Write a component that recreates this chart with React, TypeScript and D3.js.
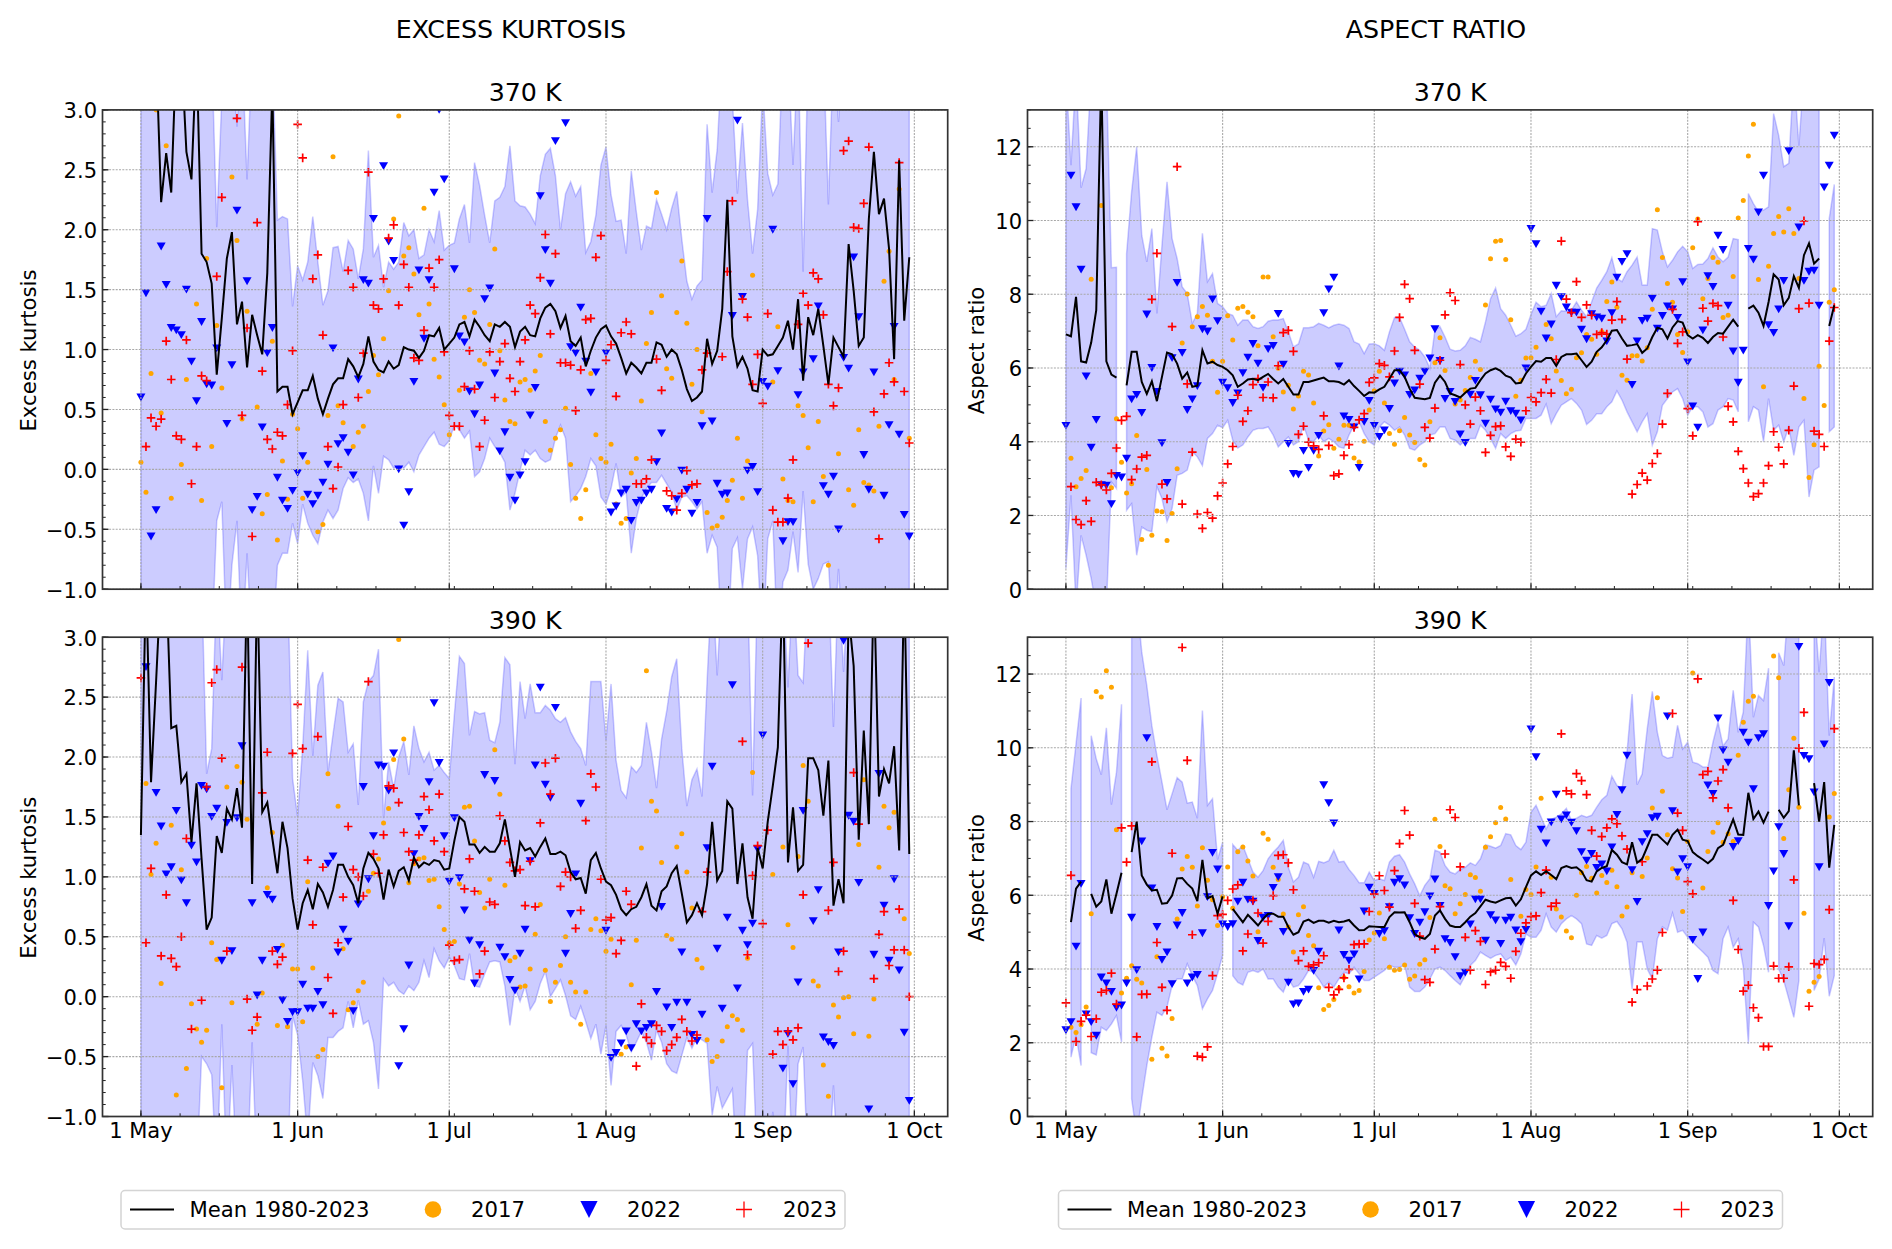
import React from "react";
import * as d3 from "d3";

const N = null;
// Off-scale values are plotted beyond the axis limits and clipped.
const ek370Mean = [3.5,3.5,3.5,3.5,2.23,2.64,2.31,3.5,3.5,2.65,2.42,3.5,1.8,1.73,1.55,.79,1.26,1.76,1.98,1.21,1.4,.85,1.29,1.12,.96,1.64,3.2,.65,.69,.69,.46,.56,.66,.66,.78,.59,.46,.59,.71,.76,.76,.92,.86,.77,.88,1.11,.9,.83,.81,.9,.84,.87,1.02,1,.99,.93,.99,1.12,1.11,1.18,1,1.05,1.1,1.21,1.23,1.11,1.25,1.19,1.12,1.07,1.21,1.19,1.23,1.19,1.02,1.15,1.19,1.12,1.11,1.26,1.35,1.38,1.32,1.18,1.28,1.07,1.03,1.1,.86,.99,1.1,1.17,1.2,1.11,1.05,.93,.8,.89,.85,.8,.89,.89,1.06,1.04,.94,1,.96,.83,.67,.57,.6,.65,1.09,.88,.99,1.34,2.25,1.11,.86,.94,.84,.66,.65,1,.95,.96,1.03,1.1,1.24,1,1.42,.74,1.27,1.12,1.34,1.03,.71,1.1,1.02,.94,1.88,1.49,1.03,1.1,2.09,2.65,2.13,2.26,1.84,.92,2.58,1.24,1.77];
const ek370Upper = [3.5,3.5,3.5,3.5,3.5,3.5,3.5,3.5,3.5,3.5,3.5,3.5,3.5,3.5,3.5,2.02,3.1,3.5,3.5,2.86,3.5,2.42,3.5,3.5,3.5,3.5,3.5,2.08,2.11,2.09,1.36,1.7,1.58,1.73,2.11,1.73,1.37,1.49,1.85,1.86,1.65,1.91,1.84,1.59,1.84,2.66,1.77,1.87,1.52,1.73,1.67,1.73,2.06,1.95,2,1.76,1.79,2,1.9,2.16,1.83,1.87,1.89,2.09,2.21,1.89,2.56,2.37,2.12,1.89,2.24,2.27,2.36,2.7,2.24,2.2,2.19,2.13,2.05,2.45,2.63,2.68,2.45,2,2.3,2.4,2.28,2.36,1.81,1.9,2.12,2.54,2.69,2.29,2.07,2.08,1.8,2.49,2.15,1.83,2.03,2.01,2.25,2.13,2,2.18,2.32,1.92,1.57,1.42,1.53,1.58,2.88,2.31,2.67,3.5,3.5,3.1,2.3,2.89,2.25,1.8,2.17,3.2,2.47,2.29,2.38,3.5,3.5,2.54,3.5,1.65,3.5,3.5,3.5,3.5,2.21,3.5,2.9,3.5,3.5,3.5,3.5,3.5,3.5,3.5,3.5,3.5,3.5,3.5,3.5,3.5,3.5];
const ek370Lower = [-1.5,-1.5,-1.5,-1.5,-1.5,-1.5,-1.5,-1.5,-1.5,-1.5,-1.5,-1.5,-1.5,-1.5,-1.5,-.43,-.27,-1.5,-.8,-.43,-1.5,-.7,-1.5,-1.5,-1.5,-1.5,-1.5,-.8,-.7,-.7,-.45,-.62,-.29,-.45,-.55,-.62,-.44,-.34,-.41,-.34,-.16,-.07,-.11,-.08,-.2,-.43,.03,-.2,.11,.08,.01,.03,.01,.06,-.02,.12,.19,.26,.31,.21,.19,.24,.37,.33,.26,.32,-.06,-.02,.09,.26,.19,.14,.06,-.34,-.2,-.01,.16,.12,.16,.09,.06,.08,.26,.37,.26,-.27,-.22,-.16,-.06,.09,.03,-.23,-.29,-.16,.05,-.23,-.19,-.7,-.41,-.24,-.16,-.11,-.11,-.05,-.12,-.19,-.34,-.23,-.22,-.27,-.33,-.27,-.7,-.55,-.65,-1.5,-1.5,-.66,-.57,-1,-.58,-.48,-.72,-1.5,-.58,-.43,-1.5,-.94,-.84,-.52,-.86,-.18,-.79,-1,-.91,-.79,-.77,-1.5,-.83,-1.5,-1.5,-1.5,-1.5,-1.5,-1.5,-1.5,-1.5,-1.5,-1.5,-1.5,-1.5,-1.5,-1.5];
const ek370Y2017 = [0,.06,1,-.19,2,.8,3,3,4,.47,5,2.7,6,-.24,8,.04,9,.75,11,1.38,12,-.26,13,1.76,14,.19,15,1.2,16,.68,18,2.44,19,1.91,20,.42,21,1.32,23,.52,24,-.37,25,-.21,26,1.07,27,-.59,28,.07,29,-.25,30,.46,31,.34,32,-.24,33,.06,35,-.52,36,-.46,37,.45,38,2.61,39,.53,40,.39,42,.19,43,.31,44,.36,45,.65,46,.95,47,.79,48,1.09,49,1.49,50,2.09,51,2.95,52,1.78,53,1.85,54,1.63,55,1.29,56,2.18,57,1.38,58,.92,59,.77,60,.54,61,.29,63,.66,64,1.27,65,1.5,66,1.31,67,.91,68,.88,69,1.21,70,1.84,71,.99,72,.58,73,.4,74,.38,75,.73,76,.75,77,.66,78,.82,79,.95,80,.4,81,.16,82,.26,83,.33,84,.51,85,.04,86,-.24,87,-.41,88,-.17,89,.8,90,.29,91,.09,92,.06,93,.21,94,-.29,95,-.45,96,-.41,97,-.03,98,.09,99,.57,100,1.05,101,1.31,102,2.31,103,1.45,104,.84,105,.76,106,1.31,107,1.74,108,1.22,109,.71,110,1,111,.48,112,-.36,113,-.49,114,-.47,115,-.4,116,-.26,117,-.09,118,.26,119,-.24,120,.07,121,1.62,125,.73,126,1.19,127,-.08,128,-.26,129,-.27,130,.53,131,.45,132,.18,133,-.27,134,.4,135,-.06,136,-.8,138,.13,140,-.17,141,-.3,142,.33,143,-.11,144,-.13,145,-.18,146,.36,147,1.57,148,1.82,149,.75,150,2.34,152,.26];
const ek370Y2022 = [0,.6,1,1.47,2,-.56,3,-.34,4,1.86,5,1.54,6,1.18,7,1.16,8,1.12,9,1.5,10,.9,11,.57,12,1.23,13,.71,14,.7,15,1.01,17,.38,18,.87,19,2.16,21,1.57,22,-.34,23,-.23,24,.35,25,.97,26,1.18,27,-.07,28,-.26,29,-.33,30,-.18,31,-.03,32,.11,33,-.21,34,-.29,35,-.22,36,-.11,37,.04,38,1.01,39,.21,40,.26,41,.14,42,-.05,43,.75,44,1.58,45,1.55,46,2.09,48,2.53,49,1.9,50,1.74,51,0,52,-.47,53,-.19,54,.73,55,1.66,56,1.09,57,1.58,58,2.31,59,3,60,2.42,62,1.67,63,1.11,64,1.06,65,.65,66,.46,67,.7,68,1.42,69,1.51,70,.8,71,.15,72,.31,73,-.07,74,-.26,75,-.05,76,.06,77,.45,78,.68,79,2.28,80,1.83,81,1.55,82,2.74,84,2.89,85,1.02,86,.97,87,1.35,88,.9,89,.64,90,.81,92,.97,93,-.36,94,-.31,95,-.2,96,-.17,97,-.43,98,-.28,99,-.26,100,-.2,101,-.17,102,.06,103,.3,104,-.33,105,-.36,106,-.25,107,-.01,108,-.17,109,-.37,110,-.28,111,.36,112,2.09,113,.4,114,-.12,115,-.21,116,-.2,117,1.28,118,2.91,119,1.44,120,-.01,121,.02,122,-.19,123,.73,124,.69,125,2,126,.82,127,-.6,128,-.44,129,-.44,130,.62,131,.81,133,.92,134,1.36,135,-.14,136,-.21,137,-.06,138,-.5,139,.93,140,.84,141,1.77,142,1.27,143,.12,144,-.17,145,.81,147,-.22,148,.37,149,1.19,150,.29,151,-.38,152,-.56];
const ek370Y2023 = [1,.19,2,.43,3,.36,4,.42,5,1.07,6,.75,7,.28,8,.25,9,1.08,10,-.12,11,.19,12,.78,13,.74,15,1.61,16,2.27,19,2.93,20,.45,21,1.18,22,-.56,23,2.06,24,.82,25,.25,26,.17,27,.31,28,.28,29,.54,30,.99,31,2.88,32,2.6,34,1.59,35,1.79,36,1.12,37,.19,38,-.16,39,.02,40,.54,41,1.66,42,1.52,43,.6,44,.97,45,2.48,46,1.37,47,1.34,48,1.59,49,1.93,50,2.04,51,1.37,52,1.71,53,1.52,54,.93,55,.91,56,1.16,57,1.68,58,1.52,59,1.75,60,.98,61,.45,62,.36,63,.36,64,.69,65,.99,66,.67,67,.19,68,.41,69,.98,70,.6,71,.9,72,1.05,73,.76,74,.65,75,.9,76,1.08,77,1.37,78,1.3,79,1.6,80,1.96,81,1.13,82,1.8,83,.89,84,.89,85,.87,86,.49,87,.83,88,1.25,89,1.26,90,1.77,91,1.95,92,.91,93,1.04,94,.61,95,1.14,96,1.23,97,1.13,98,-.12,99,-.12,100,-.08,101,.08,102,.92,103,.66,104,-.18,105,-.22,106,-.34,107,-.2,108,-.01,109,-.13,110,-.12,111,.83,112,.97,115,.94,116,1.65,117,2.24,119,1.42,120,1.27,121,.71,122,.96,123,.55,124,1.3,125,-.34,126,-.44,127,-.44,128,-.24,129,.08,130,1.21,131,1.47,132,1.37,133,1.64,134,1.59,135,1.29,136,.71,137,.53,138,.68,139,2.66,140,2.74,141,2.02,142,2.01,143,2.22,144,2.69,145,.48,146,-.58,147,.63,148,.89,149,.73,150,2.56,151,.65,152,.22];

const ek390Mean = [1.35,3.5,1.79,2.63,3.5,3.5,2.24,2.26,1.79,1.86,1.29,1.78,1.15,.56,.66,1.34,1.2,1.57,1.48,1.74,1.41,3.5,.94,3.5,1.54,1.62,1.32,1.03,1.46,1.24,.82,.56,.78,.89,.73,.94,.87,.75,.89,1.1,1.1,1,.93,.78,1.07,1.2,1.15,1.07,.81,1.06,.92,1.05,1.08,.97,1.16,1.08,1.12,1.1,1.14,1.13,1.06,1.07,1.3,1.5,1.46,1.27,1.27,1.2,1.25,1.21,1.21,1.28,1.48,1.24,1,1.29,1.22,1.24,1.17,1.25,1.32,1.19,1.19,1.21,1.18,1.04,.98,.99,.86,1.14,1.2,1.07,.96,.93,.85,.73,.68,.73,.75,.83,.94,.76,.72,.88,.92,1.03,1.09,.86,.62,.68,.78,.68,.94,1.46,.97,1.05,1.63,1.57,.94,1.28,.83,.65,1.24,1.07,1.46,1.76,2.08,3.5,1.12,1.58,1.05,1.1,1.99,1.99,1.89,1.51,1.97,.76,.98,.78,3.2,2.76,1.31,2.22,1.44,3.5,1.67,1.9,1.78,2.09,1.22,3.5,1.19];
const ek390Upper = [3.5,3.5,3.5,3.5,3.5,3.5,3.5,3.5,3.5,3.5,3.5,3.5,3.5,1.86,2.07,3.5,2.64,3.5,3.5,3.5,3.5,3.5,3.5,3.5,3.5,3.5,3.5,3.5,3.5,3.5,1.82,1.5,2.08,2.89,2.01,2.6,2.71,1.87,2.19,2.49,2.46,2.04,2.11,1.6,2.46,2.63,2.68,2.9,1.49,1.96,1.74,2,2.13,1.85,2.26,2.07,1.96,2.04,1.89,1.93,1.87,1.82,2.35,2.84,2.78,2.18,2.38,2.36,2.37,2.14,2.12,2.29,2.83,2.77,1.94,2.63,2.32,2.61,2.37,2.37,2.43,2.39,2.32,2.29,2.33,2.21,2.13,2.07,1.93,2.63,2.63,2.63,2.14,2.61,1.97,1.72,1.66,1.92,1.87,1.93,2.29,2.04,1.74,2.15,2.38,2.67,2.82,2.07,1.59,1.81,1.9,1.67,2.63,3.5,2.68,3.5,3.5,3.5,3.5,3.5,3.5,1.68,3.5,3.5,3.5,3.5,3.5,3.5,2.58,3.5,2.68,2.62,3.5,3.5,3.5,3.5,3.5,2.25,3.5,2.71,3.5,3.5,3.5,3.5,3.5,3.5,3.5,3.5,3.5,3.5,3.5,3.5,3.5];
const ek390Lower = [-1.5,-1.5,-1.5,-1.5,-1.5,-1.5,-1.5,-1.5,-1.5,-1.5,-1.5,-1.5,-.5,-.56,-.65,-1.5,-.23,-1.5,-.57,-1.5,-1.5,-1.5,-.38,-1.5,-1.5,-1.5,-1.5,-1.5,-1.5,-1.5,-.16,-.32,-.7,-1.2,-.55,-.66,-.85,-.34,-.34,-.29,-.26,-.04,-.26,-.03,-.23,-.2,-.38,-.77,.15,.09,.12,.05,.02,.09,.05,.12,.3,.16,.4,.3,.24,.33,.26,.15,.14,.36,.09,.08,.19,.29,.3,.29,.09,-.24,.07,-.04,.09,-.11,-.04,.11,.21,0,.07,.14,.01,-.16,-.19,-.08,-.21,-.35,-.23,-.48,-.24,-.74,-.29,-.24,-.32,-.46,-.38,-.29,-.38,-.53,-.28,-.38,-.56,-.62,-.64,-.49,-.34,-.43,-.34,-.36,-.39,-.99,-.75,-.93,-.85,-.77,-1.5,-1.5,-.45,-.39,-1.5,-1.5,-1.5,-.96,-1.5,-1.5,-.41,-1.5,-.56,-.42,-1.5,-1.5,-1.5,-1.5,-1.5,-.74,-1.5,-1.5,-1.5,-1.5,-1.5,-1.5,-1.5,-1.5,-1.5,-1.5,-1.5,-1.5,-1.5,-1.5,-1.5];
const ek390Y2017 = [1,1.78,2,1.02,3,1.28,4,.11,6,1.43,7,-.82,8,1.06,9,-.6,10,-.06,11,-.27,12,-.38,13,-.28,14,.45,15,.31,16,-.76,17,1.75,18,-.05,19,1.92,20,1.79,21,1.48,23,-.23,24,.03,25,.91,26,1.37,27,-.24,28,.43,29,-.25,30,.23,31,.23,32,-.21,33,.96,34,.24,35,-.5,36,-.44,37,1.86,39,1.59,40,.4,41,-.11,42,-.05,43,.05,44,.12,45,.88,46,1.03,47,1.15,48,1.45,49,1.57,50,1.98,51,2.98,52,2.15,53,.95,54,1.11,55,1.15,56,1.16,57,.97,58,.98,59,.75,60,.56,61,.45,62,.46,63,.94,64,1.58,65,1.59,66,1.3,67,.87,68,.74,69,.98,70,2.06,71,1.69,72,.93,73,.3,74,.33,75,.08,76,.09,77,.23,78,.52,79,.77,80,.22,81,-.04,82,.12,83,.26,84,.5,85,.12,86,.04,87,-.23,88,.04,89,.56,90,.65,91,.55,92,.38,93,.48,95,-.48,96,-.42,97,.1,98,.47,99,1.24,100,2.72,101,1.63,102,1.55,103,1.12,104,.51,105,.48,106,1.25,107,1.36,108,1.04,109,.74,110,.31,111,.24,112,-.36,113,-.54,114,-.5,115,-.37,116,-.25,117,-.16,118,-.19,119,-.28,120,.32,121,1.87,125,1.02,127,1.25,128,.6,129,.41,130,1.17,131,1.93,132,1.63,133,.13,134,.09,135,-.57,136,-.83,137,-.07,138,-.17,139,-.01,140,0,141,-.31,142,1.27,143,1.81,144,-.33,145,-.02,146,1.08,147,1.59,148,1.41,149,1.54,151,.65,152,.36];
const ek390Y2022 = [1,2.75,3,1.7,4,1.42,5,1.02,6,1.08,7,1.55,8,.97,9,.78,10,1.26,11,1.12,12,1.76,13,1.73,14,1.5,15,1.57,16,.3,17,1.45,18,.38,19,1.49,20,2.09,22,.78,23,.01,24,.3,25,.85,26,.81,27,.39,28,-.03,29,-.21,30,-.13,31,-.13,32,.1,33,-.1,34,-.1,35,.04,36,-.07,37,1.11,38,1.17,39,.37,40,.56,41,.46,42,-.12,43,.77,44,1.75,45,.98,46,1.34,47,1.93,48,1.92,49,1.72,50,2.03,51,-.58,52,-.27,53,.26,54,1.19,55,1.5,56,1.4,57,1.79,58,2.45,59,1.95,60,1.34,61,.96,62,1.49,63,.99,64,.72,65,.47,66,.11,67,.43,68,1.85,70,1.8,71,.41,72,.33,73,.14,74,.05,75,.36,76,.56,77,1.13,78,1.93,79,2.58,80,1.77,81,1.66,82,2.41,84,.36,85,.69,86,1.02,87,1.61,92,.55,93,-.51,94,-.47,95,-.39,96,-.29,97,-.43,98,-.23,99,-.29,100,-.26,101,-.23,102,.04,103,.75,104,-.09,105,-.26,106,-.05,107,.37,108,-.05,109,-.32,110,-.37,111,-.15,112,1.24,113,1.92,114,.4,115,-.1,116,.66,117,2.6,118,.07,119,.55,120,.43,121,.61,122,1.23,123,2.18,127,-.6,128,-.31,129,-.73,130,.12,131,1.55,133,.63,134,.89,135,-.34,136,-.38,137,-.41,138,.37,139,2.97,140,1.51,141,1.46,142,.95,144,-.94,145,.35,146,1.86,147,.76,148,.3,149,.98,150,.22,151,-.3,152,-.87];
const ek390Y2023 = [0,2.66,1,.45,2,1.07,4,.34,5,.85,6,.32,7,.25,8,.5,9,1.32,10,-.27,12,-.03,13,1.75,14,2.62,15,2.73,16,1.99,17,.38,20,2.75,21,-.02,22,-.28,23,-.17,24,1.7,25,2.04,26,.38,27,.27,28,.33,30,2.03,31,2.44,32,2.07,33,1.14,34,.6,35,2.17,36,1.08,37,.16,38,-.14,39,.45,40,.83,41,1.42,42,1.06,43,1,44,.84,45,2.63,46,1.19,47,1.03,48,1.35,49,1.76,50,1.74,51,1.62,52,1.37,53,1.21,54,1.14,55,1.35,56,1.67,57,1.56,58,1.3,59,1.69,60,1.21,61,.43,62,.3,63,.31,64,.9,65,1.15,66,.88,67,.19,68,.38,69,.79,70,.77,71,1.51,72,1.3,73,1.12,74,1.05,75,1.06,76,.76,77,1.13,78,.75,79,1.45,80,1.95,81,1.69,82,1.99,83,.92,84,1.04,85,1,86,.57,87,.72,88,1.47,89,1.86,90,1.75,91,.98,92,.64,93,.66,94,.36,95,.47,96,.88,97,.77,98,-.58,99,-.06,100,-.34,101,-.39,102,-.24,103,-.29,104,-.45,105,-.4,106,-.34,107,-.19,108,-.29,109,-.37,110,-.32,111,.71,112,1.04,119,2.13,120,.35,121,1.01,122,1.26,123,.61,124,1.39,125,-.48,126,-.29,127,-.4,128,-.29,129,-.36,130,-.26,131,.85,132,2.95,136,.72,137,1.12,138,.21,139,.38,141,1.87,142,1.44,145,.15,146,.52,147,.71,148,.26,149,.39,150,.73,151,.39,152,0];

const ar370Mean = [6.91,6.86,7.93,6.18,6.15,6.69,7.57,14,6.18,5.82,5.74,N,5.53,6.44,6.44,5.62,5.3,5.64,5.1,5.76,6.42,6.37,6.12,5.71,5.88,5.49,5.52,6.48,6.12,6.17,6.08,6.03,5.94,5.8,5.49,5.58,5.69,5.71,5.67,5.76,5.84,5.7,5.58,5.7,5.49,5.28,5.28,5.62,5.62,5.66,5.7,5.74,5.64,5.64,5.62,5.55,5.67,5.51,5.38,5.24,5.34,5.33,5.42,5.49,5.71,5.94,5.94,5.76,5.44,5.19,5.17,5.15,5.19,5.6,5.79,5.62,5.31,5.26,5.2,5.33,5.44,5.46,5.67,5.85,5.94,5.99,5.92,5.79,5.74,5.58,5.6,5.85,6.03,6.19,6.17,6.27,6.27,6.06,6.3,6.37,6.37,6.39,6.21,6.03,6.17,6.44,6.56,6.75,7.01,7.03,6.8,6.6,6.62,6.65,6.41,6.53,6.84,7.09,7.05,6.8,7.1,7.27,7.23,6.89,6.8,6.89,6.82,6.68,6.84,6.95,6.93,7.12,7.31,7.12,N,7.61,7.69,7.5,7.14,7.79,8.54,8.4,7.7,7.9,8.49,8.17,9.06,9.38,8.83,8.97,N,7.14,7.7];
const ar370Upper = [14,11.5,14,10.89,11.41,14,14,14,14,8.72,8.73,N,9.1,10.78,12,9.6,8.88,9.78,7.48,9.33,11.05,9.51,8.97,8.2,8.02,7.21,7.48,9.65,8.34,8.56,7.75,7.66,7.48,7.43,7.16,7.3,7.3,7.12,7.07,7.12,7.27,7.3,7.3,7.34,6.98,6.57,6.65,7.09,7.09,7.12,7.21,7.16,7.09,7.16,7.19,7.16,7.07,6.71,6.65,6.39,6.65,6.66,6.6,6.48,6.98,7.37,7.37,7.05,6.71,6.57,6.48,6.3,5.99,7.03,7.12,6.84,6.51,6.46,6.48,6.6,6.83,6.78,6.71,7.25,7.88,8.17,7.61,7.43,7.16,6.86,6.93,7.05,7.45,7.78,7.66,7.7,8.02,7.39,7.55,7.54,7.57,7.79,7.57,7.39,7.79,8.17,8.38,8.61,8.99,8.43,8.34,8.61,8.79,9.01,8.25,8.25,9.78,9.74,9.15,8.74,8.92,9.15,9.3,9.15,8.7,8.81,8.82,8.97,9.26,9.01,8.88,9.01,9.51,9.48,N,10.73,10.46,10.24,10.28,10.37,12.9,12.31,11.46,11.55,14,12.03,14,14,14,14,N,10.05,10.98];
const ar370Lower = [.56,2.55,-.5,1.46,.92,.29,-.5,-.5,-.5,2.91,2.73,N,2.14,2.32,.92,1.69,1.6,1.56,2.78,2.46,1.83,2.19,3.09,3.14,3.23,3.73,3.59,3.35,4.09,4.22,4.45,4.38,4.58,4.04,3.83,3.91,4.13,4.31,4.36,4.36,4.4,4.18,3.86,4,4.13,3.91,4,4.45,4.04,4,4.18,4,4.09,4,3.86,3.82,4.18,4.45,4.54,4.22,4,3.91,4.4,4.54,4.45,4.31,4.4,4.18,3.82,3.77,3.91,4,4.18,4.22,4.4,4.4,4.09,4.04,3.91,4.04,4.09,4.09,4.45,4.31,4.09,3.82,4.22,4.09,4.22,4.29,4.31,4.63,4.63,4.63,4.72,5.02,4.49,4.76,4.99,5.08,5.17,5.04,4.86,4.47,4.58,4.76,4.76,4.95,5.08,5.38,5.13,4.81,4.54,4.27,4.54,4.76,3.91,4.27,4.99,5.17,5.35,5.44,5.17,4.72,4.95,4.95,4.81,4.4,4.49,4.86,4.95,5.17,5.13,4.81,N,4.54,4.95,4.86,4,5.17,4.31,4.45,4,4.4,3.63,4.4,4.58,2.5,3.23,3.32,N,4.27,4.4];
const ar370Y2017 = [1,3.55,2,2.78,3,3,4,3.22,5,8.41,7,10.41,9,2.75,10,4.62,11,3.44,12,2.61,13,2.86,14,4.17,15,1.35,16,3.25,17,1.46,18,2.12,19,2.1,20,1.32,21,2.05,22,3.27,23,6.68,24,8.01,25,7.12,26,7.39,27,7.67,28,7.43,29,6.18,30,5.34,31,6.18,32,7.42,33,6.76,34,7.62,35,7.67,36,7.51,37,7.39,38,6.6,39,8.47,40,8.47,41,6.85,42,5.99,43,5.35,44,5.53,45,4.89,46,5.24,47,5.91,48,5.81,49,5.05,50,3.61,51,4.29,52,4.46,53,3.82,54,4.07,55,4.45,56,4.45,57,3.56,58,3.45,59,4.01,60,4.86,61,5.38,62,5.91,63,5.05,64,4.22,65,3.93,66,4.3,67,4.66,68,4.18,69,3.98,70,3.52,71,3.37,72,4.54,73,6.14,74,6.82,75,5.93,77,5.02,78,5.13,79,5.39,80,5.74,81,6.18,82,5.96,83,7.71,84,8.96,85,9.44,86,9.46,87,8.94,88,7.31,89,5.23,90,5.67,91,6.27,92,6.28,93,6.56,95,7.18,96,6.79,97,5.92,98,5.66,99,5.3,100,5.42,101,6.28,102,6.41,103,6.91,104,6.78,105,6.37,106,6.98,107,7.8,108,8.33,109,7.65,110,5.8,111,5.67,112,6.33,113,6.33,114,6.19,115,6.55,116,7.59,117,10.29,118,9,119,8.29,120,7.78,121,6.91,122,6.42,123,6.98,124,9.26,125,10.04,126,7.88,127,8.43,128,9,129,8.87,130,7.37,131,7.43,132,8.48,133,10.07,134,10.54,135,11.75,136,12.61,137,8.4,138,5.49,139,8.76,140,9.65,141,10.11,142,9.69,143,10.32,144,9.65,145,8.43,146,5.17,147,3.03,148,3.92,149,6.05,150,4.98,151,7.78,152,8.12];
const ar370Y2022 = [0,4.43,1,11.22,2,10.36,3,8.67,4,5.77,5,3.84,6,4.59,7,2.82,8,2.81,9,2.31,10,3.07,11,3.03,12,3.54,13,5.15,14,5.27,15,4.78,16,7.45,17,6,18,5.35,19,3.96,20,2.88,21,6.27,22,8.31,23,6.41,24,4.86,25,5.15,26,5.51,27,7.05,28,6.99,29,7.86,30,7.27,31,5.6,32,5.45,33,5.05,34,5.31,35,5.86,36,6.28,37,6.65,38,6.12,39,5.46,40,6.51,41,6.6,42,7.47,43,6.09,44,3.94,45,3.13,46,3.11,47,3.75,48,3.29,49,3.75,50,4.16,51,7.49,52,8.13,53,8.45,54,6.04,55,4.69,56,4.59,57,4.39,58,3.29,59,4.54,60,5.11,61,4.43,62,4.13,63,4.31,64,4.89,65,5.58,66,5.9,67,5.8,68,5.27,69,5.39,70,5.71,71,5.9,72,6.26,73,7.05,74,6.19,75,5.16,76,5.35,77,5.08,78,4.2,79,3.97,80,5.28,81,5.65,82,5.26,83,4.49,84,5.14,85,4.88,86,4.79,87,5.09,88,4.83,89,4.76,90,4.58,91,5.99,92,9.77,93,9.36,94,7.53,95,6.8,96,7.18,97,8.23,98,7.92,99,7.64,100,7.5,101,7.5,102,7.04,103,6.78,104,7.46,105,7.37,106,7.34,107,6.72,108,7.49,109,8.45,110,8.88,111,9.09,112,5.54,113,6.72,114,7.28,115,7.34,116,7.88,117,7.07,118,7.41,119,7.67,120,7.59,121,7.36,122,8.33,123,6.15,124,4.96,125,4.38,126,7.02,127,8.49,128,8.2,129,9.59,130,9.2,131,7.69,132,6.45,133,5.6,134,6.47,135,9.23,136,8.94,137,10.22,138,11.22,139,7.16,140,6.95,141,7.59,142,8.36,143,11.88,145,9.81,146,8.36,147,8.61,148,8.64,149,7.69,150,10.9,151,11.49,152,12.3];
const ar370Y2023 = [1,2.78,2,1.89,3,1.75,4,2.4,5,1.84,6,2.9,7,2.83,8,2.69,9,3.14,10,3.83,11,4.58,12,4.69,13,2.97,14,3.26,15,3.58,16,3.63,17,7.86,18,9.11,19,2.85,20,2.45,21,7.12,22,11.46,23,2.31,24,5.57,25,3.72,26,2.04,27,1.65,28,2.08,29,1.93,30,2.53,31,2.88,32,3.4,33,3.87,34,5.26,35,4.55,36,4.84,37,5.55,38,5.71,39,5.2,40,5.62,41,5.19,42,6.06,43,6.96,44,7.02,45,6.45,46,4.2,47,4.42,48,3.99,49,3.89,50,3.79,51,4.7,52,3.9,53,3.08,54,3.13,55,3.63,56,3.92,57,4.39,58,4.59,59,4.76,60,5.61,61,5.73,62,6.12,63,6.07,64,5.76,65,6.46,66,7.37,67,8.27,68,7.88,69,6.48,70,5.56,71,4.39,72,4.1,73,4.91,74,6.21,75,7.44,76,8.04,77,7.83,78,6.09,79,5,80,4.48,81,5.21,82,4.84,83,3.71,84,4.17,85,4.41,86,4.43,87,3.86,88,3.6,89,4.07,90,3.99,91,4.84,92,5.2,93,5.08,94,5.33,95,5.69,96,5.32,97,6.23,98,9.44,99,7.87,100,7.5,101,8.34,102,7.37,103,7.71,104,7.43,105,6.91,106,6.96,107,6.92,108,7.3,109,7.8,110,7.32,111,6.24,112,2.58,113,2.84,114,3.15,115,2.96,116,3.41,117,3.68,118,4.48,119,5.31,120,7.59,121,6.67,122,6.98,123,4.9,124,4.16,125,9.97,126,7.62,127,7.27,128,7.75,129,7.69,130,6.84,131,4.96,132,4.54,133,3.74,134,3.27,135,2.88,136,2.51,137,2.59,138,2.88,139,3.35,140,4.27,141,3.85,142,3.4,143,4.31,144,5.51,145,7.61,146,9.99,147,7.76,148,4.29,149,4.2,150,3.87,151,6.73,152,7.64];

const ar390Mean = [N,5.27,6.18,6.37,N,6.04,5.69,5.83,6.43,5.5,6.04,6.61,N,7.17,8,6.54,6.29,6.13,6.15,5.77,5.79,5.99,6.46,6.47,6.31,6.18,5.84,6.96,5.92,5.98,5.5,5.97,N,5.63,5.45,5.27,5.47,5.33,5.18,5.36,5.5,5.5,5.42,5.42,5.14,4.93,5,5.29,5.34,5.25,5.31,5.31,5.26,5.31,5.27,5.29,5.33,5.18,5.05,5.06,5.16,5.15,5.14,5.14,5.41,5.54,5.53,5.54,5.27,4.95,4.86,4.82,4.95,5.45,5.59,5.36,5.18,5.14,5.14,5.27,5.42,5.52,5.7,5.88,5.83,5.8,5.86,5.92,5.93,5.72,5.89,6.22,6.54,6.65,6.55,6.65,6.55,6.44,6.74,6.79,6.74,6.76,6.65,6.41,6.37,6.65,6.74,6.79,7.23,7.1,6.9,6.84,7.44,6.88,6.99,7.31,7.64,7.64,7.51,7.38,7.64,7.78,7.51,7.47,7.17,7.06,6.97,6.87,6.99,7.28,7.37,7.71,8.06,7.65,7.64,8.78,8.07,8.27,7.97,8.27,N,8.32,8.1,8.28,9.93,8.44,N,N,9.04,8,9.07,6.75,7.91];
const ar390Upper = [N,8.89,10.11,11.35,N,10.33,9.7,9.27,10.54,8.46,9.34,11.18,N,14,14,12.6,11.69,10.6,9.79,9.07,8.32,8.75,9.19,9.07,8.5,8.53,8.09,11.01,8.44,8.62,6.97,7.44,N,7.38,7.22,7.35,6.99,6.63,6.49,6.67,6.99,7.17,7.31,7.49,6.76,6.36,6.49,6.9,6.84,6.49,6.92,6.88,6.94,7.22,6.9,6.92,6.7,6.54,6.34,6.34,6.63,6.4,6.45,6.4,6.9,7.06,7.1,6.9,6.58,6.31,5.99,6.27,6.45,7.22,7.17,6.81,6.63,6.58,6.7,6.76,6.88,6.81,6.99,7.37,7.33,7.28,7.35,7.67,7.64,7.35,7.24,7.44,8.25,8.44,8.12,7.8,8.06,8.12,8.21,8.36,8.03,8.09,8.17,8.12,8.17,8.39,8.59,8.71,9.23,8.98,8.89,9.88,11.46,9,9.29,10.52,11.53,10.42,9.79,9.72,9.75,10.61,9.97,10.15,9.61,9.57,9.48,9.48,10.15,10.7,10.05,10.24,11.56,10.42,10.97,14,10.83,11.42,11.28,12.16,N,12.58,12.23,14,14,14,N,N,14,12.05,14,10.33,11.92];
const ar390Lower = [N,1.61,2.2,1.38,N,1.73,1.67,2.42,2.33,2.51,2.74,2.02,N,.48,-.5,.48,1.38,2.15,2.83,2.74,2.97,3.55,3.73,3.73,4.14,3.82,3.55,2.92,3.19,3.42,3.87,4.37,N,3.82,3.64,3.57,3.91,3.96,3.91,4,3.73,3.73,3.51,3.37,3.73,3.51,3.55,3.73,3.96,3.91,3.73,3.51,3.64,3.51,3.73,3.91,3.87,4.05,3.87,3.69,3.69,3.78,3.87,3.96,4.1,4.05,4.05,4.1,3.51,3.39,3.39,3.51,3.73,4,4.05,3.96,3.82,3.69,3.57,3.82,4.1,4.23,4.46,4.37,4.29,4.37,4.41,4.23,4.32,4.11,4.41,4.95,4.86,4.86,5.05,5.5,5.14,5,5.23,5.36,5.45,5.36,5.23,4.68,4.64,4.91,4.84,4.91,5.23,5.29,5.09,4.73,3.46,4.73,4.73,4,3.73,4.82,5.14,5.05,5.52,5,5.05,4.86,4.73,4.59,4.46,4.32,3.96,3.87,4.82,5.14,4.59,4.82,4.05,1.97,5.27,5.14,4.64,3.91,N,4,3.69,3.19,2.69,3.69,N,N,3.42,3.73,4.84,3.26,3.82];
const ar390Y2017 = [1,2.42,2,2.28,3,2.49,4,2.97,5,5.5,6,11.53,7,11.38,8,12.09,9,11.64,10,7.78,11,3.35,12,3.75,13,4.09,14,3.72,15,3.62,17,1.55,18,4.33,19,1.85,20,1.64,21,2.66,22,5.36,23,6.71,24,7.05,25,6.76,26,5.71,27,7.29,28,6.41,29,5.88,30,5.18,31,5.96,32,6.77,33,5.65,34,7.18,35,7.31,36,6.93,37,6.52,38,5.01,39,7.68,40,7.52,41,6.76,42,6.43,43,5.49,44,5.14,45,4.46,46,5.47,47,5.69,48,4.91,49,4.63,50,3.49,51,2.9,52,3.01,53,3.17,54,3.48,55,3.77,56,3.52,57,3.35,58,3.42,59,3.93,60,4.79,61,4.98,62,5.52,63,4.82,64,4.05,65,3.97,66,3.99,67,4.11,68,3.72,69,3.81,70,4.13,71,4.25,72,5.4,73,8.06,74,7.32,75,6.26,76,6.18,77,5.5,78,5.77,79,6.02,80,6.56,81,6.48,82,6.11,83,7.3,84,7.59,85,7.97,86,8.38,87,8.07,88,6.43,90,5.43,91,6.16,92,6.02,93,6.77,94,8.63,96,6.49,97,5.63,98,5.41,99,5.03,100,4.85,101,6,102,6.61,103,6.78,104,6.46,105,6.06,106,6.54,107,6.35,108,6.68,109,6.23,110,5.44,111,5.68,112,6.61,114,6.51,115,7.01,116,8.37,117,11.36,118,8.82,119,7.64,120,6.72,121,6.47,122,5.56,123,7.46,124,12.03,126,6.2,127,7.19,128,7.71,129,7.97,130,7.44,131,7.67,132,7.46,133,9.8,134,10.69,135,11.26,136,11.4,140,12.49,141,11.9,142,7.54,143,8.86,144,10.26,145,8.39,146,5.51,147,3.4,148,3.64,149,3.8,151,8.12,152,8.76];
const ar390Y2022 = [0,2.34,1,2.56,2,4.61,3,6.31,4,2.77,5,2.56,6,2.19,7,3.77,8,3.61,9,3.38,10,2.95,11,3.01,12,3.61,13,5.39,14,3.97,15,7.46,16,10.26,17,6.19,18,5.14,19,4.25,20,4.45,21,3.59,22,5.18,23,5.52,24,3.61,25,3.77,26,3.84,27,4.97,28,5.95,29,7.15,30,6.7,31,5.21,32,5.14,33,5.22,34,5.83,35,6.34,36,5.88,37,5.83,38,4.76,39,5.39,40,5.44,41,6.2,42,6.49,43,5.01,44,3.63,45,3.04,46,3.07,47,3.38,48,3.44,49,3.95,50,4.47,51,8.99,52,8.5,53,7.95,54,5.05,55,4.38,56,4.23,57,4.4,58,3.72,59,5.56,60,6.21,61,6.04,62,4.95,63,5.03,64,5.68,65,6.34,66,6.44,67,6.27,68,5.38,69,4.95,70,5.26,71,5.54,72,5.97,73,6.43,74,5.71,75,4.81,76,4.71,77,4.32,78,3.81,79,3.9,80,5.21,81,5.89,82,5.89,83,4.77,84,5.46,85,5.32,86,4.68,87,5.31,88,5.39,89,5.05,90,4.73,91,5.06,92,10.5,93,9.75,94,7.78,95,7.41,96,7.98,97,8.73,98,8.06,99,8.17,100,7.97,101,7.74,102,7.17,103,6.94,104,7.12,105,6.74,106,6.84,107,6.65,108,7.3,109,8.18,110,8.85,111,9.79,112,6.68,113,5.82,114,7.44,115,7.66,116,8.09,117,8.13,119,10.85,120,8.28,121,6.62,122,6.98,123,6.76,124,4.79,125,3.73,126,4.99,127,8.98,128,8.75,129,10.8,130,9.93,131,9.6,132,7.31,133,7.47,134,10.41,135,10.14,136,8.88,137,10.26,138,10.37,139,5.71,140,6.65,141,7.85,142,7.12,143,5.16,145,12.74,146,9.78,147,9.69,148,8.79,149,6.76,150,10.09,151,11.76];
const ar390Y2023 = [0,3.08,1,6.54,2,2.03,3,2.58,4,2.75,5,2.17,6,2.65,7,3.37,8,3.42,9,3.89,10,3.05,11,7.83,12,6.9,13,7.88,14,2.16,15,3.31,16,3.32,17,9.62,18,4.72,19,3.5,20,2.88,21,7.14,23,12.72,24,9.66,25,4.93,26,1.64,27,1.61,28,1.89,29,3.82,30,5.45,31,5.48,32,5.86,33,6.17,34,6.28,35,4.49,36,4.95,37,5.86,38,5.52,39,4.7,40,5.29,41,5.99,42,7.08,43,7.1,44,6.88,45,6.15,46,4.23,47,4.49,48,4.07,49,4.11,50,4.17,51,4.36,52,3.5,53,3.3,54,3.45,55,3.76,56,3.99,57,4.66,58,4.68,59,4.68,60,5.56,61,6.03,62,6.53,63,6.13,64,5.68,65,6.67,66,7.4,67,8.3,68,7.63,69,5.78,70,4.89,71,3.71,72,3.64,73,4.54,74,5.69,75,7.12,76,8.32,77,8.11,78,6.77,79,4.86,80,3.97,81,5.04,82,4.75,83,3.58,84,3.92,85,3.97,86,4.18,87,4.07,88,3.75,89,4.48,90,4.97,91,5.25,92,5.42,93,5.44,94,6.07,95,6.68,96,5.7,97,5.79,98,10.38,99,8.83,100,8.75,101,9.3,102,9.11,103,8.73,104,7.76,105,7.06,106,7.59,107,7.83,108,8.07,109,7.94,110,7.61,111,7.25,112,3.1,113,3.44,114,6.91,115,3.54,116,3.73,117,3.97,118,4.99,120,10.93,121,8.23,122,7.76,123,6.37,124,6.04,125,11.87,126,9.27,127,9.36,128,8.64,129,9.1,130,9.41,131,8.37,132,5.86,133,4.53,134,3.4,135,3.56,136,2.95,137,2.68,138,1.9,139,1.9,140,4.08,141,3.75,142,3.75,143,4.06,144,6.42,145,9.99,146,10.96,147,2.99,148,4.15,149,4.12,150,4.26,151,5.61,152,10.52];

const monthTicks = [0, 31, 61, 92, 123, 153];
const monthLabels = ["1 May", "1 Jun", "1 Jul", "1 Aug", "1 Sep", "1 Oct"];
const minorDayTicks = d3.range(0, 21).map((k) => k * 7.75);
const kurtosisTicks = [-1, -0.5, 0, 0.5, 1, 1.5, 2, 2.5, 3];
const aspectTicks = [0, 2, 4, 6, 8, 10, 12];
const legendLabels = ["Mean 1980-2023", "2017", "2022", "2023"];

type Pt = [number, number];
const pairs = (flat: number[]): Pt[] =>
  d3.range(0, flat.length, 2).map((i) => [flat[i], flat[i + 1]] as Pt);

const FONT = "'DejaVu Sans', sans-serif";
const AX_W = 845.2;
const AX_H = 479.3;
const dayScale = d3.scaleLinear().domain([-7.6, 159.6]).range([0, AX_W]);

type PanelProps = {
  id: string; x: number; y: number; title: string; ylabel: string; labelX: number;
  domain: [number, number]; ticks: number[]; minorStep: number; decimals: number;
  mean: (number | null)[]; upper: (number | null)[]; lower: (number | null)[];
  y2017: number[]; y2022: number[]; y2023: number[]; showX: boolean;
};

function Panel(p: PanelProps) {
  const yS = d3.scaleLinear().domain(p.domain).range([AX_H, 0]);
  const idx = d3.range(0, p.mean.length);
  const area = d3.area<number>()
    .defined((i) => p.upper[i] != null && p.lower[i] != null)
    .x((i) => dayScale(i))
    .y0((i) => yS(p.lower[i] as number))
    .y1((i) => yS(p.upper[i] as number));
  const line = d3.line<number>()
    .defined((i) => p.mean[i] != null)
    .x((i) => dayScale(i))
    .y((i) => yS(p.mean[i] as number));
  const minorY: number[] = [];
  const nMinor = Math.round((p.domain[1] - p.domain[0]) / p.minorStep);
  for (let k = 0; k <= nMinor; k++) minorY.push(p.domain[0] + k * p.minorStep);
  const fmt = (v: number) => (v < 0 ? "\u2212" : "") + Math.abs(v).toFixed(p.decimals);
  return (
    <g transform={`translate(${p.x},${p.y})`} fontFamily={FONT}>
      <clipPath id={p.id}><rect width={AX_W} height={AX_H} /></clipPath>
      <g clipPath={`url(#${p.id})`}>
        <path d={area(idx) || ""} fill="#0000ff" fillOpacity={0.2} stroke="#0000ff" strokeOpacity={0.2} strokeWidth={1.5} />
        {pairs(p.y2017).map(([d, v], i) => (
          <circle key={i} cx={dayScale(d)} cy={yS(v)} r={2.5} fill="#ffa500" />
        ))}
        {pairs(p.y2022).map(([d, v], i) => (
          <path key={i} transform={`translate(${dayScale(d)},${yS(v)})`} d="M-4.5,-3.9L4.5,-3.9L0,3.9Z" fill="#0000ff" />
        ))}
        {pairs(p.y2023).map(([d, v], i) => (
          <path key={i} transform={`translate(${dayScale(d)},${yS(v)})`} d="M-4.3,0H4.3M0,-4.3V4.3" stroke="#ff0000" strokeWidth={1.7} fill="none" />
        ))}
        {monthTicks.map((d) => (
          <line key={d} x1={dayScale(d)} x2={dayScale(d)} y1={0} y2={AX_H} stroke="#a8a8a8" strokeWidth={1.1} strokeDasharray="2 1.3" />
        ))}
        {p.ticks.map((v) => (
          <line key={v} x1={0} x2={AX_W} y1={yS(v)} y2={yS(v)} stroke="#a8a8a8" strokeWidth={1.1} strokeDasharray="2 1.3" />
        ))}
        <path d={line(idx) || ""} fill="none" stroke="#000" strokeWidth={2} strokeLinejoin="miter" />
      </g>
      {minorDayTicks.map((d) => (
        <line key={d} x1={dayScale(d)} x2={dayScale(d)} y1={AX_H} y2={AX_H - 3.2} stroke="#222" strokeWidth={1} />
      ))}
      {monthTicks.map((d) => (
        <line key={d} x1={dayScale(d)} x2={dayScale(d)} y1={AX_H} y2={AX_H - 6} stroke="#222" strokeWidth={1.3} />
      ))}
      {minorY.map((v) => (
        <line key={v} x1={0} x2={3.2} y1={yS(v)} y2={yS(v)} stroke="#222" strokeWidth={1} />
      ))}
      {p.ticks.map((v) => (
        <line key={v} x1={0} x2={6} y1={yS(v)} y2={yS(v)} stroke="#222" strokeWidth={1.3} />
      ))}
      <rect width={AX_W} height={AX_H} fill="none" stroke="#333" strokeWidth={1.7} />
      {p.ticks.map((v) => (
        <text key={v} x={-5.5} y={yS(v) + 0.8} dy="0.36em" textAnchor="end" fontSize={21} fill="#000">{fmt(v)}</text>
      ))}
      {p.showX && monthTicks.map((d, i) => (
        <text key={d} x={dayScale(d)} y={AX_H + 21.7} textAnchor="middle" fontSize={21} fill="#000">{monthLabels[i]}</text>
      ))}
      <text x={AX_W / 2} y={-8.7} textAnchor="middle" fontSize={25.3} fill="#000">{p.title}</text>
      <text transform={`translate(${p.labelX},${AX_H / 2 + 1}) rotate(-90)`} textAnchor="middle" fontSize={21.2} fill="#000">{p.ylabel}</text>
    </g>
  );
}

function Legend({ x }: { x: number }) {
  const cy = 19;
  return (
    <g transform={`translate(${x},1190.5)`} fontFamily={FONT} fontSize={21.2} fill="#000">
      <rect width={724} height={38.5} rx={4} fill="#fff" stroke="#d4d4d4" strokeWidth={1.5} />
      <line x1={9} x2={53} y1={cy} y2={cy} stroke="#000" strokeWidth={2} />
      <text x={68.5} y={cy + 7.4}>{legendLabels[0]}</text>
      <circle cx={312} cy={cy} r={8.3} fill="#ffa500" />
      <text x={350} y={cy + 7.4}>{legendLabels[1]}</text>
      <path transform={`translate(468,${cy})`} d="M-8.6,-8.4L8.6,-8.4L0,8.4Z" fill="#0000ff" />
      <text x={506} y={cy + 7.4}>{legendLabels[2]}</text>
      <path transform={`translate(623,${cy})`} d="M-8,0H8M0,-8V8" stroke="#ff0000" strokeWidth={1.3} fill="none" />
      <text x={662} y={cy + 7.4}>{legendLabels[3]}</text>
    </g>
  );
}

export default function App() {
  return (
    <svg width={1892} height={1249} viewBox="0 0 1892 1249" style={{ position: "absolute", left: 0, top: 0, display: "block", background: "#fff" }}>
      <text x={511} y={38} textAnchor="middle" fontFamily={FONT} fontSize={25.3} fill="#000">EXCESS KURTOSIS</text>
      <text x={1436} y={38} textAnchor="middle" fontFamily={FONT} fontSize={25.3} fill="#000">ASPECT RATIO</text>
      <Panel id="c1" x={102.5} y={109.9} labelX={-67} title="370 K" ylabel="Excess kurtosis" domain={[-1, 3]} ticks={kurtosisTicks} minorStep={0.1} decimals={1}
        mean={ek370Mean} upper={ek370Upper} lower={ek370Lower} y2017={ek370Y2017} y2022={ek370Y2022} y2023={ek370Y2023} showX={false} />
      <Panel id="c2" x={102.5} y={637.2} labelX={-67} title="390 K" ylabel="Excess kurtosis" domain={[-1, 3]} ticks={kurtosisTicks} minorStep={0.1} decimals={1}
        mean={ek390Mean} upper={ek390Upper} lower={ek390Lower} y2017={ek390Y2017} y2022={ek390Y2022} y2023={ek390Y2023} showX={true} />
      <Panel id="c3" x={1027.5} y={109.9} labelX={-44} title="370 K" ylabel="Aspect ratio" domain={[0, 13]} ticks={aspectTicks} minorStep={0.5} decimals={0}
        mean={ar370Mean} upper={ar370Upper} lower={ar370Lower} y2017={ar370Y2017} y2022={ar370Y2022} y2023={ar370Y2023} showX={false} />
      <Panel id="c4" x={1027.5} y={637.2} labelX={-44} title="390 K" ylabel="Aspect ratio" domain={[0, 13]} ticks={aspectTicks} minorStep={0.5} decimals={0}
        mean={ar390Mean} upper={ar390Upper} lower={ar390Lower} y2017={ar390Y2017} y2022={ar390Y2022} y2023={ar390Y2023} showX={true} />
      <Legend x={121} />
      <Legend x={1058.5} />
    </svg>
  );
}
